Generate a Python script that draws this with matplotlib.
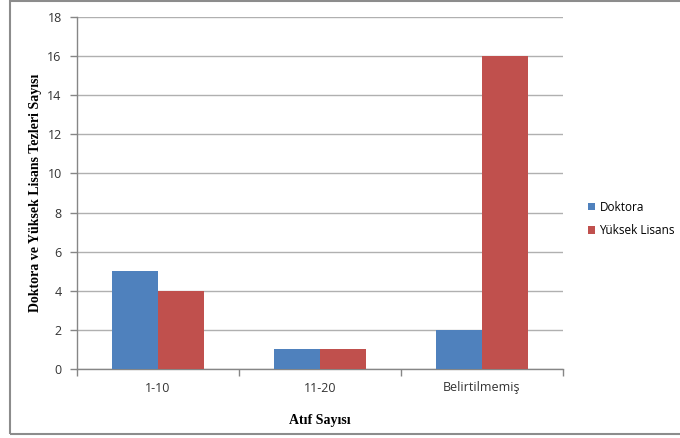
import matplotlib
matplotlib.use('Agg')
import matplotlib.pyplot as plt
from matplotlib.patches import Rectangle
import numpy as np

categories = ['1-10', '11-20', 'Belirtilmemiş']
doktora = [5, 1, 2]
yuksek_lisans = [4, 1, 16]
series_names = ['Doktora', 'Yüksek Lisans']

blue = '#4F81BD'
red = '#C0504D'
grid_col = '#B0B0B0'
axis_col = '#868686'

fig = plt.figure(figsize=(6.8, 4.38), dpi=100)
ax = fig.add_axes([77 / 680, 1 - 369 / 438, 486 / 680, 352 / 438])

# outer chart frame
fig.patches.append(Rectangle((10 / 680, 4 / 438), 1.0, 433 / 438, transform=fig.transFigure,
                             fill=False, edgecolor='#8C8C8C', linewidth=1.5))

x = np.arange(len(categories))
w = 0.284
ax.bar(x - w / 2, doktora, w, color=blue, label=series_names[0], zorder=3)
ax.bar(x + w / 2, yuksek_lisans, w, color=red, label=series_names[1], zorder=3)

ax.set_xlim(-0.5, 2.5)
ax.set_ylim(0, 18)
ax.set_yticks(range(0, 19, 2))
ax.yaxis.grid(True, color=grid_col, linewidth=1.0, zorder=0)

# category labels centred, tick marks on boundaries
ax.set_xticks([-0.5, 0.5, 1.5, 2.5])
ax.set_xticklabels([])
ax.set_xticks(x, minor=True)
ax.set_xticklabels(categories, minor=True)
ax.tick_params(axis='x', which='minor', length=0, pad=9)
ax.tick_params(axis='x', which='major', length=5, color=axis_col, width=1)
ax.tick_params(axis='y', length=5, color=axis_col, width=1, pad=6)

for lab in ax.get_xticklabels(minor=True) + ax.get_yticklabels():
    lab.set_fontfamily('Open Sans')
    lab.set_fontsize(9)
    lab.set_color('#333333')

for side in ['top', 'right']:
    ax.spines[side].set_visible(False)
for side in ['left', 'bottom']:
    ax.spines[side].set_color(axis_col)
    ax.spines[side].set_linewidth(1)

ax.set_xlabel('Atıf Sayısı', fontfamily='Liberation Serif', fontweight='bold',
              fontsize=10, labelpad=14)
ax.set_ylabel('Doktora ve Yüksek Lisans Tezleri Sayısı', fontfamily='Liberation Serif',
              fontweight='bold', fontsize=10, labelpad=4)

leg = fig.legend(loc='upper left', bbox_to_anchor=(577 / 680, 1 - 190 / 438), frameon=False,
                 prop={'family': 'Open Sans', 'size': 8.5}, handlelength=0.6, handleheight=0.6,
                 handletextpad=0.4, labelspacing=0.9)

fig.savefig('out.png', dpi=100, facecolor='white')
